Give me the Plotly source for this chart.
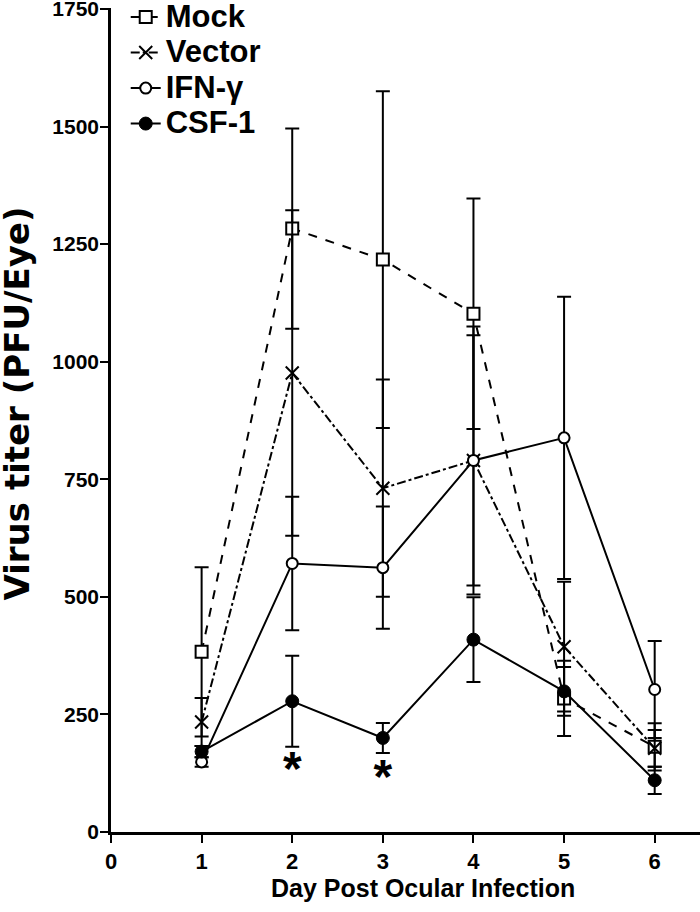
import plotly.graph_objects as go

days = [1, 2, 3, 4, 5, 6]

mock = [383, 1283, 1217, 1102, 284, 181]
mock_err = [180, 213, 358, 245, 80, 50]

vector = [234, 976, 731, 790, 394, 178]
vector_err = [51, 346, 231, 266, 138, 39]

ifn = [149, 571, 562, 790, 838, 303]
ifn_err = [10, 142, 130, 285, 300, 103]

csf = [171, 278, 200, 409, 299, 110]
csf_err = [12, 97, 32, 90, 52, 29]

sig_days = [2, 3]
sig_y = [125, 108]

x_ticks = [0, 1, 2, 3, 4, 5, 6]
y_ticks = [0, 250, 500, 750, 1000, 1250, 1500, 1750]

FONT = "Liberation Sans"

fig = go.Figure()

def err(vals):
    return dict(type="data", array=vals, visible=True, color="black",
                thickness=2, width=7)

def lname(s):
    return "<span style='font-size:31px'>" + s + "</span>"

fig.add_trace(go.Scatter(
    x=days, y=mock, name=lname("Mock"), mode="lines+markers",
    line=dict(color="black", width=2, dash="dash"),
    marker=dict(symbol="square", size=12, color="white",
                line=dict(color="black", width=2)),
    error_y=err(mock_err)))

fig.add_trace(go.Scatter(
    x=days, y=vector, name=lname("Vector"), mode="lines+markers",
    line=dict(color="black", width=2, dash="dashdot"),
    marker=dict(symbol="x-thin-open", size=13, color="black",
                line=dict(color="black", width=2)),
    error_y=err(vector_err)))

fig.add_trace(go.Scatter(
    x=days, y=ifn, name=lname("IFN-γ"), mode="lines+markers",
    line=dict(color="black", width=2),
    marker=dict(symbol="circle", size=11, color="white",
                line=dict(color="black", width=2)),
    error_y=err(ifn_err)))

fig.add_trace(go.Scatter(
    x=days, y=csf, name=lname("CSF-1"), mode="lines+markers",
    line=dict(color="black", width=2),
    marker=dict(symbol="circle", size=13, color="black",
                line=dict(color="black", width=1)),
    error_y=err(csf_err)))

fig.add_trace(go.Scatter(
    x=sig_days, y=sig_y, mode="text", text=["*", "*"],
    textfont=dict(family=FONT, size=48, color="black", weight="bold"),
    showlegend=False, hoverinfo="skip"))

fig.update_layout(
    width=700, height=912,
    margin=dict(l=111, r=0, t=8, b=80, autoexpand=False),
    plot_bgcolor="white", paper_bgcolor="white",
    font=dict(family=FONT, color="black"),
    showlegend=True,
    legend=dict(x=0.025, y=1.0166, xanchor="left", yanchor="top",
                font=dict(family=FONT, size=25, weight="bold"),
                bgcolor="rgba(0,0,0,0)", itemwidth=30,
                tracegroupgap=0),
    xaxis=dict(range=[0, 6.5], tickvals=x_ticks,
               ticktext=[str(v) for v in x_ticks],
               showgrid=False, zeroline=False,
               showline=True, linecolor="black", linewidth=2.5,
               ticks="outside", ticklen=8, tickwidth=2, tickcolor="black",
               tickfont=dict(family=FONT, size=22, weight="bold")),
    yaxis=dict(range=[0, 1752], tickvals=y_ticks,
               ticktext=[str(v) for v in y_ticks],
               showgrid=False, zeroline=False,
               showline=True, linecolor="black", linewidth=2.5,
               ticks="outside", ticklen=8, tickwidth=2, tickcolor="black",
               ticklabeloverflow="allow", ticklabelstandoff=-3,
               tickfont=dict(family=FONT, size=21, weight="bold")),
    annotations=[
        dict(text="Virus titer (PFU/Eye)", xref="paper", yref="paper",
             x=(17 - 111) / 589, y=0.52, xanchor="center", yanchor="middle",
             textangle=-90, showarrow=False,
             font=dict(family="DejaVu Sans", size=34, weight="bold",
                       color="black")),
        dict(text="Day Post Ocular Infection", xref="paper", yref="paper",
             x=0.53, y=-0.068, xanchor="center", yanchor="middle",
             showarrow=False,
             font=dict(family=FONT, size=25, weight="bold", color="black")),
    ],
)

fig.write_html("out.html", config={"displayModeBar": False},
               post_script="document.body.style.margin='0px';")
